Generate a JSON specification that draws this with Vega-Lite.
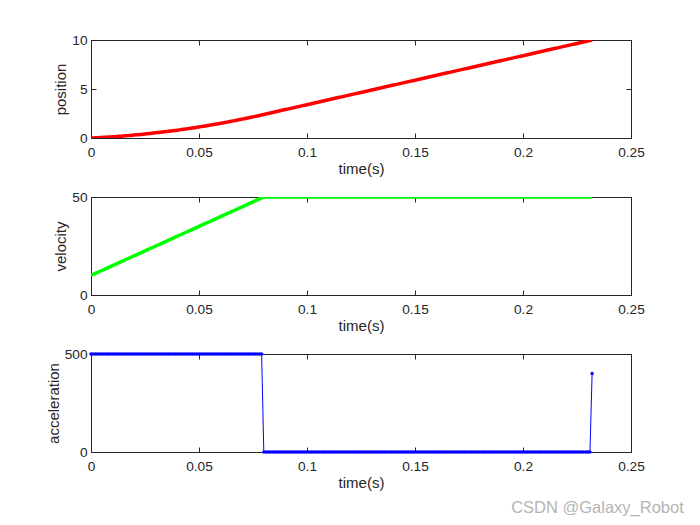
{
  "$schema": "https://vega.github.io/schema/vega-lite/v6.json",
  "padding": {"left": 45, "top": 32, "right": 5, "bottom": 5},
  "autosize": {"type": "pad"},
  "background": "white",
  "bounds": "flush",
  "spacing": 59,
  "title": {"text": "CSDN @Galaxy_Robot", "orient": "bottom", "anchor": "end", "fontSize": 16.5, "fontWeight": "normal", "color": "#b4b4b4", "font": "Liberation Sans", "dx": 39, "offset": 9},
  "config": {
    "font": "Liberation Sans",
    "view": {"stroke": "#262626", "strokeWidth": 1},
    "axis": {"domain": false, "grid": false, "labelFlush": false, "tickColor": "#262626", "tickSize": -5, "labelFontSize": 13.7, "labelColor": "#262626", "titleFontSize": 15, "titleFontWeight": "normal", "titleColor": "#262626", "labelFont": "Liberation Sans", "titleFont": "Liberation Sans"},
    "axisX": {"labelPadding": 12, "titlePadding": 3},
    "axisY": {"labelPadding": 9, "titlePadding": 3}
  },
  "datasets": {
    "d": [
      {"t":0,"p":0,"v":10,"a":500},
      {"t":0.001,"p":0.010,"v":10.5,"a":500},
      {"t":0.002,"p":0.021,"v":11,"a":500},
      {"t":0.003,"p":0.032,"v":11.5,"a":500},
      {"t":0.004,"p":0.044,"v":12,"a":500},
      {"t":0.005,"p":0.056,"v":12.5,"a":500},
      {"t":0.006,"p":0.069,"v":13,"a":500},
      {"t":0.007,"p":0.082,"v":13.5,"a":500},
      {"t":0.008,"p":0.096,"v":14,"a":500},
      {"t":0.009,"p":0.110,"v":14.5,"a":500},
      {"t":0.010,"p":0.125,"v":15,"a":500},
      {"t":0.011,"p":0.140,"v":15.5,"a":500},
      {"t":0.012,"p":0.156,"v":16,"a":500},
      {"t":0.013,"p":0.172,"v":16.5,"a":500},
      {"t":0.014,"p":0.189,"v":17,"a":500},
      {"t":0.015,"p":0.206,"v":17.5,"a":500},
      {"t":0.016,"p":0.224,"v":18,"a":500},
      {"t":0.017,"p":0.242,"v":18.5,"a":500},
      {"t":0.018,"p":0.261,"v":19,"a":500},
      {"t":0.019,"p":0.280,"v":19.5,"a":500},
      {"t":0.020,"p":0.300,"v":20,"a":500},
      {"t":0.021,"p":0.320,"v":20.5,"a":500},
      {"t":0.022,"p":0.341,"v":21,"a":500},
      {"t":0.023,"p":0.362,"v":21.5,"a":500},
      {"t":0.024,"p":0.384,"v":22,"a":500},
      {"t":0.025,"p":0.406,"v":22.5,"a":500},
      {"t":0.026,"p":0.429,"v":23,"a":500},
      {"t":0.027,"p":0.452,"v":23.5,"a":500},
      {"t":0.028,"p":0.476,"v":24,"a":500},
      {"t":0.029,"p":0.500,"v":24.5,"a":500},
      {"t":0.030,"p":0.525,"v":25,"a":500},
      {"t":0.031,"p":0.550,"v":25.5,"a":500},
      {"t":0.032,"p":0.576,"v":26,"a":500},
      {"t":0.033,"p":0.602,"v":26.5,"a":500},
      {"t":0.034,"p":0.629,"v":27,"a":500},
      {"t":0.035,"p":0.656,"v":27.5,"a":500},
      {"t":0.036,"p":0.684,"v":28,"a":500},
      {"t":0.037,"p":0.712,"v":28.5,"a":500},
      {"t":0.038,"p":0.741,"v":29,"a":500},
      {"t":0.039,"p":0.770,"v":29.5,"a":500},
      {"t":0.040,"p":0.800,"v":30,"a":500},
      {"t":0.041,"p":0.830,"v":30.5,"a":500},
      {"t":0.042,"p":0.861,"v":31,"a":500},
      {"t":0.043,"p":0.892,"v":31.5,"a":500},
      {"t":0.044,"p":0.924,"v":32,"a":500},
      {"t":0.045,"p":0.956,"v":32.5,"a":500},
      {"t":0.046,"p":0.989,"v":33,"a":500},
      {"t":0.047,"p":1.022,"v":33.5,"a":500},
      {"t":0.048,"p":1.056,"v":34,"a":500},
      {"t":0.049,"p":1.090,"v":34.5,"a":500},
      {"t":0.050,"p":1.125,"v":35,"a":500},
      {"t":0.051,"p":1.160,"v":35.5,"a":500},
      {"t":0.052,"p":1.196,"v":36,"a":500},
      {"t":0.053,"p":1.232,"v":36.5,"a":500},
      {"t":0.054,"p":1.269,"v":37,"a":500},
      {"t":0.055,"p":1.306,"v":37.5,"a":500},
      {"t":0.056,"p":1.344,"v":38,"a":500},
      {"t":0.057,"p":1.382,"v":38.5,"a":500},
      {"t":0.058,"p":1.421,"v":39,"a":500},
      {"t":0.059,"p":1.460,"v":39.5,"a":500},
      {"t":0.060,"p":1.500,"v":40,"a":500},
      {"t":0.061,"p":1.540,"v":40.5,"a":500},
      {"t":0.062,"p":1.581,"v":41,"a":500},
      {"t":0.063,"p":1.622,"v":41.5,"a":500},
      {"t":0.064,"p":1.664,"v":42,"a":500},
      {"t":0.065,"p":1.706,"v":42.5,"a":500},
      {"t":0.066,"p":1.749,"v":43,"a":500},
      {"t":0.067,"p":1.792,"v":43.5,"a":500},
      {"t":0.068,"p":1.836,"v":44,"a":500},
      {"t":0.069,"p":1.880,"v":44.5,"a":500},
      {"t":0.070,"p":1.925,"v":45,"a":500},
      {"t":0.071,"p":1.970,"v":45.5,"a":500},
      {"t":0.072,"p":2.016,"v":46,"a":500},
      {"t":0.073,"p":2.062,"v":46.5,"a":500},
      {"t":0.074,"p":2.109,"v":47,"a":500},
      {"t":0.075,"p":2.156,"v":47.5,"a":500},
      {"t":0.076,"p":2.204,"v":48,"a":500},
      {"t":0.077,"p":2.252,"v":48.5,"a":500},
      {"t":0.078,"p":2.301,"v":49,"a":500},
      {"t":0.079,"p":2.350,"v":49.5,"a":500},
      {"t":0.080,"p":2.40,"v":50,"a":0},
      {"t":0.081,"p":2.45,"v":50,"a":0},
      {"t":0.082,"p":2.50,"v":50,"a":0},
      {"t":0.083,"p":2.55,"v":50,"a":0},
      {"t":0.084,"p":2.60,"v":50,"a":0},
      {"t":0.085,"p":2.65,"v":50,"a":0},
      {"t":0.086,"p":2.70,"v":50,"a":0},
      {"t":0.087,"p":2.75,"v":50,"a":0},
      {"t":0.088,"p":2.80,"v":50,"a":0},
      {"t":0.089,"p":2.85,"v":50,"a":0},
      {"t":0.090,"p":2.90,"v":50,"a":0},
      {"t":0.091,"p":2.95,"v":50,"a":0},
      {"t":0.092,"p":3.00,"v":50,"a":0},
      {"t":0.093,"p":3.05,"v":50,"a":0},
      {"t":0.094,"p":3.10,"v":50,"a":0},
      {"t":0.095,"p":3.15,"v":50,"a":0},
      {"t":0.096,"p":3.20,"v":50,"a":0},
      {"t":0.097,"p":3.25,"v":50,"a":0},
      {"t":0.098,"p":3.30,"v":50,"a":0},
      {"t":0.099,"p":3.35,"v":50,"a":0},
      {"t":0.100,"p":3.40,"v":50,"a":0},
      {"t":0.101,"p":3.45,"v":50,"a":0},
      {"t":0.102,"p":3.50,"v":50,"a":0},
      {"t":0.103,"p":3.55,"v":50,"a":0},
      {"t":0.104,"p":3.60,"v":50,"a":0},
      {"t":0.105,"p":3.65,"v":50,"a":0},
      {"t":0.106,"p":3.70,"v":50,"a":0},
      {"t":0.107,"p":3.75,"v":50,"a":0},
      {"t":0.108,"p":3.80,"v":50,"a":0},
      {"t":0.109,"p":3.85,"v":50,"a":0},
      {"t":0.110,"p":3.90,"v":50,"a":0},
      {"t":0.111,"p":3.95,"v":50,"a":0},
      {"t":0.112,"p":4.00,"v":50,"a":0},
      {"t":0.113,"p":4.05,"v":50,"a":0},
      {"t":0.114,"p":4.10,"v":50,"a":0},
      {"t":0.115,"p":4.15,"v":50,"a":0},
      {"t":0.116,"p":4.20,"v":50,"a":0},
      {"t":0.117,"p":4.25,"v":50,"a":0},
      {"t":0.118,"p":4.30,"v":50,"a":0},
      {"t":0.119,"p":4.35,"v":50,"a":0},
      {"t":0.120,"p":4.40,"v":50,"a":0},
      {"t":0.121,"p":4.45,"v":50,"a":0},
      {"t":0.122,"p":4.50,"v":50,"a":0},
      {"t":0.123,"p":4.55,"v":50,"a":0},
      {"t":0.124,"p":4.60,"v":50,"a":0},
      {"t":0.125,"p":4.65,"v":50,"a":0},
      {"t":0.126,"p":4.70,"v":50,"a":0},
      {"t":0.127,"p":4.75,"v":50,"a":0},
      {"t":0.128,"p":4.80,"v":50,"a":0},
      {"t":0.129,"p":4.85,"v":50,"a":0},
      {"t":0.130,"p":4.90,"v":50,"a":0},
      {"t":0.131,"p":4.95,"v":50,"a":0},
      {"t":0.132,"p":5.00,"v":50,"a":0},
      {"t":0.133,"p":5.05,"v":50,"a":0},
      {"t":0.134,"p":5.10,"v":50,"a":0},
      {"t":0.135,"p":5.15,"v":50,"a":0},
      {"t":0.136,"p":5.20,"v":50,"a":0},
      {"t":0.137,"p":5.25,"v":50,"a":0},
      {"t":0.138,"p":5.30,"v":50,"a":0},
      {"t":0.139,"p":5.35,"v":50,"a":0},
      {"t":0.140,"p":5.40,"v":50,"a":0},
      {"t":0.141,"p":5.45,"v":50,"a":0},
      {"t":0.142,"p":5.50,"v":50,"a":0},
      {"t":0.143,"p":5.55,"v":50,"a":0},
      {"t":0.144,"p":5.60,"v":50,"a":0},
      {"t":0.145,"p":5.65,"v":50,"a":0},
      {"t":0.146,"p":5.70,"v":50,"a":0},
      {"t":0.147,"p":5.75,"v":50,"a":0},
      {"t":0.148,"p":5.80,"v":50,"a":0},
      {"t":0.149,"p":5.85,"v":50,"a":0},
      {"t":0.150,"p":5.90,"v":50,"a":0},
      {"t":0.151,"p":5.95,"v":50,"a":0},
      {"t":0.152,"p":6.00,"v":50,"a":0},
      {"t":0.153,"p":6.05,"v":50,"a":0},
      {"t":0.154,"p":6.10,"v":50,"a":0},
      {"t":0.155,"p":6.15,"v":50,"a":0},
      {"t":0.156,"p":6.20,"v":50,"a":0},
      {"t":0.157,"p":6.25,"v":50,"a":0},
      {"t":0.158,"p":6.30,"v":50,"a":0},
      {"t":0.159,"p":6.35,"v":50,"a":0},
      {"t":0.160,"p":6.40,"v":50,"a":0},
      {"t":0.161,"p":6.45,"v":50,"a":0},
      {"t":0.162,"p":6.50,"v":50,"a":0},
      {"t":0.163,"p":6.55,"v":50,"a":0},
      {"t":0.164,"p":6.60,"v":50,"a":0},
      {"t":0.165,"p":6.65,"v":50,"a":0},
      {"t":0.166,"p":6.70,"v":50,"a":0},
      {"t":0.167,"p":6.75,"v":50,"a":0},
      {"t":0.168,"p":6.80,"v":50,"a":0},
      {"t":0.169,"p":6.85,"v":50,"a":0},
      {"t":0.170,"p":6.90,"v":50,"a":0},
      {"t":0.171,"p":6.95,"v":50,"a":0},
      {"t":0.172,"p":7.00,"v":50,"a":0},
      {"t":0.173,"p":7.05,"v":50,"a":0},
      {"t":0.174,"p":7.10,"v":50,"a":0},
      {"t":0.175,"p":7.15,"v":50,"a":0},
      {"t":0.176,"p":7.20,"v":50,"a":0},
      {"t":0.177,"p":7.25,"v":50,"a":0},
      {"t":0.178,"p":7.30,"v":50,"a":0},
      {"t":0.179,"p":7.35,"v":50,"a":0},
      {"t":0.180,"p":7.40,"v":50,"a":0},
      {"t":0.181,"p":7.45,"v":50,"a":0},
      {"t":0.182,"p":7.50,"v":50,"a":0},
      {"t":0.183,"p":7.55,"v":50,"a":0},
      {"t":0.184,"p":7.60,"v":50,"a":0},
      {"t":0.185,"p":7.65,"v":50,"a":0},
      {"t":0.186,"p":7.70,"v":50,"a":0},
      {"t":0.187,"p":7.75,"v":50,"a":0},
      {"t":0.188,"p":7.80,"v":50,"a":0},
      {"t":0.189,"p":7.85,"v":50,"a":0},
      {"t":0.190,"p":7.90,"v":50,"a":0},
      {"t":0.191,"p":7.95,"v":50,"a":0},
      {"t":0.192,"p":8.00,"v":50,"a":0},
      {"t":0.193,"p":8.05,"v":50,"a":0},
      {"t":0.194,"p":8.10,"v":50,"a":0},
      {"t":0.195,"p":8.15,"v":50,"a":0},
      {"t":0.196,"p":8.20,"v":50,"a":0},
      {"t":0.197,"p":8.25,"v":50,"a":0},
      {"t":0.198,"p":8.30,"v":50,"a":0},
      {"t":0.199,"p":8.35,"v":50,"a":0},
      {"t":0.200,"p":8.40,"v":50,"a":0},
      {"t":0.201,"p":8.45,"v":50,"a":0},
      {"t":0.202,"p":8.50,"v":50,"a":0},
      {"t":0.203,"p":8.55,"v":50,"a":0},
      {"t":0.204,"p":8.60,"v":50,"a":0},
      {"t":0.205,"p":8.65,"v":50,"a":0},
      {"t":0.206,"p":8.70,"v":50,"a":0},
      {"t":0.207,"p":8.75,"v":50,"a":0},
      {"t":0.208,"p":8.80,"v":50,"a":0},
      {"t":0.209,"p":8.85,"v":50,"a":0},
      {"t":0.210,"p":8.90,"v":50,"a":0},
      {"t":0.211,"p":8.95,"v":50,"a":0},
      {"t":0.212,"p":9.00,"v":50,"a":0},
      {"t":0.213,"p":9.05,"v":50,"a":0},
      {"t":0.214,"p":9.10,"v":50,"a":0},
      {"t":0.215,"p":9.15,"v":50,"a":0},
      {"t":0.216,"p":9.20,"v":50,"a":0},
      {"t":0.217,"p":9.25,"v":50,"a":0},
      {"t":0.218,"p":9.30,"v":50,"a":0},
      {"t":0.219,"p":9.35,"v":50,"a":0},
      {"t":0.220,"p":9.40,"v":50,"a":0},
      {"t":0.221,"p":9.45,"v":50,"a":0},
      {"t":0.222,"p":9.50,"v":50,"a":0},
      {"t":0.223,"p":9.55,"v":50,"a":0},
      {"t":0.224,"p":9.60,"v":50,"a":0},
      {"t":0.225,"p":9.65,"v":50,"a":0},
      {"t":0.226,"p":9.70,"v":50,"a":0},
      {"t":0.227,"p":9.75,"v":50,"a":0},
      {"t":0.228,"p":9.80,"v":50,"a":0},
      {"t":0.229,"p":9.85,"v":50,"a":0},
      {"t":0.230,"p":9.90,"v":50,"a":0},
      {"t":0.231,"p":9.95,"v":50,"a":0},
      {"t":0.232,"p":10.00,"v":50,"a":400}
    ]
  },
  "vconcat": [
    {
      "width": 540, "height": 98,
      "data": {"name": "d"},
      "layer": [
        {
          "mark": {"type": "line", "color": "#ff0000", "strokeWidth": 3.5, "clip": true},
          "encoding": {
            "x": {"field": "t", "type": "quantitative", "scale": {"domain": [0, 0.25], "nice": false, "zero": false}, "axis": {"orient": "bottom", "title": "time(s)", "values": [0, 0.05, 0.1, 0.15, 0.2, 0.25], "format": "~g"}},
            "y": {"field": "p", "type": "quantitative", "scale": {"domain": [0, 10], "nice": false}, "axis": {"orient": "left", "title": "position", "values": [0, 5, 10], "format": "d"}}
          }
        },
        {
          "mark": {"type": "point", "opacity": 0},
          "encoding": {
            "x": {"field": "t", "type": "quantitative", "axis": {"orient": "top", "title": null, "labels": false, "values": [0, 0.05, 0.1, 0.15, 0.2, 0.25]}},
            "y": {"field": "p", "type": "quantitative", "axis": {"orient": "right", "title": null, "labels": false, "values": [0, 5, 10]}}
          }
        }
      ],
      "resolve": {"axis": {"x": "independent", "y": "independent"}}
    },
    {
      "width": 540, "height": 98,
      "data": {"name": "d"},
      "layer": [
        {
          "mark": {"type": "line", "color": "#00ff00", "strokeWidth": 3.5, "clip": true},
          "encoding": {
            "x": {"field": "t", "type": "quantitative", "scale": {"domain": [0, 0.25], "nice": false, "zero": false}, "axis": {"orient": "bottom", "title": "time(s)", "values": [0, 0.05, 0.1, 0.15, 0.2, 0.25], "format": "~g"}},
            "y": {"field": "v", "type": "quantitative", "scale": {"domain": [0, 50], "nice": false}, "axis": {"orient": "left", "title": "velocity", "values": [0, 50], "format": "d"}}
          }
        },
        {
          "mark": {"type": "point", "opacity": 0},
          "encoding": {
            "x": {"field": "t", "type": "quantitative", "axis": {"orient": "top", "title": null, "labels": false, "values": [0, 0.05, 0.1, 0.15, 0.2, 0.25]}},
            "y": {"field": "v", "type": "quantitative", "axis": {"orient": "right", "title": null, "labels": false, "values": [0, 50]}}
          }
        }
      ],
      "resolve": {"axis": {"x": "independent", "y": "independent"}}
    },
    {
      "width": 540, "height": 98,
      "data": {"name": "d"},
      "layer": [
        {
          "mark": {"type": "line", "color": "#0000ff", "strokeWidth": 1, "clip": true},
          "encoding": {
            "x": {"field": "t", "type": "quantitative", "scale": {"domain": [0, 0.25], "nice": false, "zero": false}, "axis": {"orient": "bottom", "title": "time(s)", "values": [0, 0.05, 0.1, 0.15, 0.2, 0.25], "format": "~g"}},
            "y": {"field": "a", "type": "quantitative", "scale": {"domain": [0, 500], "nice": false}, "axis": {"orient": "left", "title": "acceleration", "values": [0, 500], "format": "d"}}
          }
        },
        {
          "mark": {"type": "point", "filled": true, "color": "#0000ff", "size": 12, "opacity": 1},
          "encoding": {
            "x": {"field": "t", "type": "quantitative", "axis": {"orient": "top", "title": null, "labels": false, "values": [0, 0.05, 0.1, 0.15, 0.2, 0.25]}},
            "y": {"field": "a", "type": "quantitative", "axis": {"orient": "right", "title": null, "labels": false, "values": [0, 500]}}
          }
        }
      ],
      "resolve": {"axis": {"x": "independent", "y": "independent"}}
    }
  ]
}
